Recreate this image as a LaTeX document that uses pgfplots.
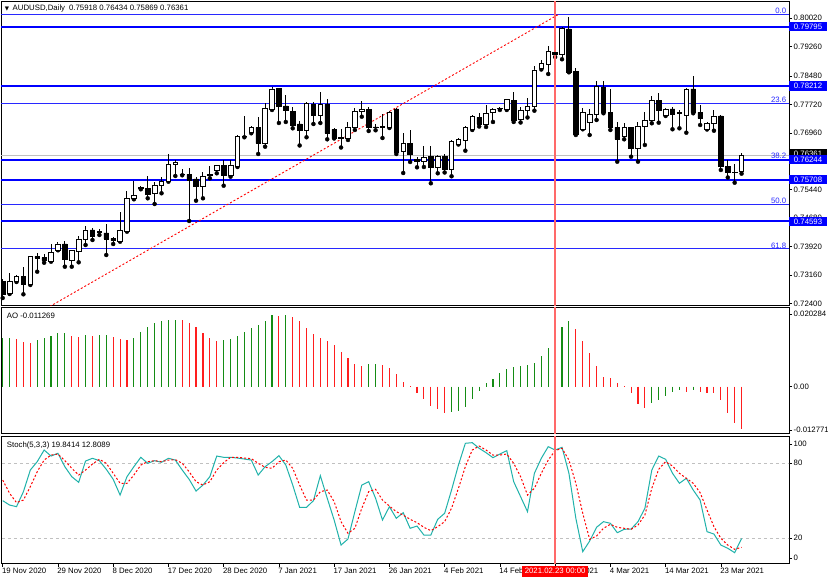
\documentclass[border=0pt]{standalone}
\usepackage{pgfplots}
\usepackage{pgfplotstable}
\pgfplotsset{compat=1.18}
\usepackage{fontspec}
\setmainfont{Liberation Sans}
\newfontfamily\dejavu{DejaVu Sans}
\newcommand\lab{\fontsize{7.8bp}{9bp}\selectfont}
\definecolor{mtblue}{RGB}{0,0,255}
\definecolor{fibblue}{RGB}{40,40,255}
\definecolor{aogreen}{RGB}{20,140,20}
\definecolor{aored}{RGB}{255,30,30}
\definecolor{vred}{RGB}{255,105,105}
\definecolor{stk}{RGB}{32,178,170}
\definecolor{silverc}{RGB}{192,192,192}

\pgfplotstableread{
i o h l c
0 0.72983 0.73055 0.72547 0.72654
1 0.72662 0.73223 0.72654 0.72993
2 0.72983 0.73162 0.72975 0.73116
3 0.73116 0.73384 0.72646 0.72921
4 0.72913 0.73669 0.72895 0.73661
5 0.73656 0.73742 0.73250 0.73616
6 0.73624 0.73715 0.73490 0.73544
7 0.73528 0.73990 0.73517 0.73758
8 0.73822 0.74052 0.73822 0.73990
9 0.73990 0.74070 0.73384 0.73589
10 0.73544 0.73830 0.73384 0.73811
11 0.73795 0.74204 0.73501 0.74124
12 0.74116 0.74479 0.73963 0.74364
13 0.74364 0.74426 0.74097 0.74185
14 0.74319 0.74391 0.74231 0.74292
15 0.74284 0.74516 0.73696 0.74124
16 0.74142 0.74185 0.73990 0.74078
17 0.74062 0.74853 0.74052 0.74345
18 0.74319 0.75406 0.74319 0.75211
19 0.75211 0.75681 0.75184 0.75299
20 0.75505 0.75540 0.75452 0.75468
21 0.75478 0.75807 0.75211 0.75326
22 0.75345 0.75654 0.75059 0.75558
23 0.75566 0.75788 0.75345 0.75673
24 0.75654 0.76387 0.75654 0.76127
25 0.76127 0.76234 0.75807 0.76181
26 0.75860 0.76002 0.75826 0.75842
27 0.75852 0.76013 0.74605 0.75700
28 0.75727 0.75788 0.75147 0.75521
29 0.75521 0.75906 0.75211 0.75788
30 0.75842 0.76074 0.75745 0.75815
31 0.75967 0.76101 0.75879 0.76101
32 0.76082 0.76234 0.75548 0.75834
33 0.75834 0.76234 0.75788 0.76101
34 0.76074 0.76902 0.76047 0.76875
35 0.76875 0.77410 0.76841 0.76862
36 0.76974 0.77143 0.76948 0.77097
37 0.77097 0.77391 0.76395 0.76680
38 0.76680 0.77749 0.76590 0.77610
39 0.77589 0.78185 0.77570 0.78131
40 0.78150 0.78171 0.77223 0.77658
41 0.77677 0.77971 0.77250 0.77570
42 0.77525 0.77642 0.77081 0.77169
43 0.77196 0.77276 0.76622 0.77036
44 0.77036 0.77776 0.76841 0.77749
45 0.77730 0.77792 0.77196 0.77437
46 0.77437 0.78043 0.77223 0.77730
47 0.77730 0.77851 0.76787 0.76948
48 0.77055 0.77089 0.76809 0.76814
49 0.76827 0.77068 0.76568 0.76814
50 0.76814 0.77236 0.76769 0.77116
51 0.77116 0.77615 0.77036 0.77543
52 0.77535 0.77819 0.77391 0.77591
53 0.77589 0.77642 0.77009 0.77116
54 0.77116 0.77188 0.77028 0.77103
55 0.77129 0.77463 0.76822 0.77116
56 0.77116 0.77549 0.77089 0.77517
57 0.77597 0.77632 0.76395 0.76448
58 0.76456 0.76956 0.75887 0.76680
59 0.76680 0.77036 0.76181 0.76395
60 0.76253 0.76314 0.76039 0.76194
61 0.76200 0.76608 0.76047 0.76301
62 0.76322 0.76608 0.75612 0.76039
63 0.76026 0.76368 0.75879 0.76341
64 0.76333 0.76395 0.75900 0.75975
65 0.75975 0.76769 0.75799 0.76723
66 0.76662 0.76814 0.76648 0.76787
67 0.76769 0.77135 0.76483 0.77097
68 0.77057 0.77429 0.77036 0.77391
69 0.77375 0.77477 0.77129 0.77196
70 0.77196 0.77696 0.77116 0.77482
71 0.77517 0.77615 0.77250 0.77597
72 0.77610 0.77650 0.77570 0.77602
73 0.77589 0.77864 0.77570 0.77845
74 0.77837 0.78051 0.77250 0.77303
75 0.77322 0.77650 0.77236 0.77557
76 0.77551 0.77883 0.77370 0.77669
77 0.77658 0.78746 0.77551 0.78639
78 0.78684 0.78893 0.78652 0.78818
79 0.78786 0.79267 0.78532 0.79128
80 0.79101 0.79160 0.78986 0.79066
81 0.79058 0.79796 0.78925 0.79753
82 0.79734 0.80063 0.78577 0.78577
83 0.78593 0.78684 0.76902 0.76929
84 0.77063 0.77615 0.77055 0.77509
85 0.77231 0.77589 0.76902 0.77455
86 0.77463 0.78353 0.77303 0.78193
87 0.78177 0.78353 0.77482 0.77498
88 0.77498 0.78131 0.77036 0.77108
89 0.77108 0.77257 0.76189 0.76787
90 0.76875 0.77215 0.76787 0.77108
91 0.77097 0.77124 0.76322 0.76547
92 0.76547 0.77257 0.76189 0.77143
93 0.77143 0.77525 0.76635 0.77284
94 0.77284 0.77944 0.77215 0.77837
95 0.77837 0.78016 0.77231 0.77551
96 0.77429 0.77615 0.77410 0.77597
97 0.77597 0.77658 0.77055 0.77463
98 0.77503 0.77570 0.77081 0.77490
99 0.77429 0.78150 0.76964 0.78131
100 0.78131 0.78479 0.77482 0.77498
101 0.77509 0.77704 0.77169 0.77348
102 0.77063 0.77236 0.77049 0.77215
103 0.77215 0.77570 0.77017 0.77410
104 0.77410 0.77437 0.75967 0.76055
105 0.76055 0.76234 0.75767 0.75895
106 0.75906 0.76127 0.75628 0.75892
107 0.75918 0.76434 0.75869 0.76361
}\candles

\pgfplotstableread{
i k d
0 50.1 66.6
1 46.6 56.0
2 45.3 48.5
3 57.3 50.6
4 74.6 61.3
5 81.3 73.3
6 90.6 82.6
7 85.8 86.6
8 88.0 87.4
9 77.3 82.1
10 69.3 76.0
11 64.8 70.6
12 81.8 74.6
13 84.0 79.4
14 82.1 83.2
15 75.2 80.0
16 67.2 72.0
17 54.6 64.0
18 69.3 64.0
19 77.3 70.6
20 84.8 78.6
21 80.0 81.3
22 82.1 82.1
23 80.8 81.3
24 84.0 82.6
25 82.6 82.9
26 74.6 80.0
27 67.2 73.3
28 57.8 65.3
29 62.6 62.6
30 69.3 65.3
31 85.8 74.6
32 84.8 80.5
33 84.8 84.8
34 84.2 84.8
35 83.4 84.2
36 82.6 83.7
37 70.6 80.0
38 77.3 76.8
39 81.3 76.0
40 86.1 81.3
41 78.6 82.6
42 62.6 76.0
43 44.8 62.6
44 44.8 50.6
45 50.1 50.6
46 70.1 57.3
47 52.0 58.6
48 34.6 49.3
49 14.6 33.3
50 19.4 24.0
51 41.3 28.0
52 62.6 44.0
53 65.3 57.3
54 52.0 59.2
55 34.6 50.6
56 45.3 45.8
57 36.0 41.3
58 40.5 38.6
59 28.0 35.2
60 29.8 32.5
61 22.6 28.8
62 22.6 26.1
63 35.2 29.3
64 40.0 33.3
65 58.6 44.0
66 78.6 60.0
67 96.0 77.3
68 96.5 90.6
69 92.0 93.8
70 88.5 90.6
71 84.5 86.6
72 87.4 86.6
73 90.1 87.4
74 65.3 80.0
75 53.3 69.3
76 41.3 54.6
77 72.0 60.0
78 84.0 72.0
79 93.3 82.6
80 90.6 90.1
81 92.8 92.0
82 72.0 82.6
83 36.0 64.0
84 9.3 40.0
85 17.8 19.2
86 28.8 21.8
87 33.3 28.0
88 32.0 31.2
89 24.5 28.8
90 27.2 28.0
91 27.4 27.2
92 33.3 30.6
93 44.0 38.6
94 74.6 60.0
95 85.8 75.2
96 83.2 81.3
97 72.0 77.8
98 64.0 72.0
99 68.0 68.0
100 58.6 64.0
101 50.6 56.5
102 25.3 42.6
103 23.4 29.3
104 14.6 20.0
105 12.0 14.6
106 8.5 11.2
107 19.84 12.81
}\stoch

\pgfplotsset{
  panel/.style={
    scale only axis, width=788bp, xmin=-0.246, xmax=113.87,
    anchor=south west,
    axis line style={draw=black, line width=0.8bp},
    xtick=\empty, ytick pos=right, yticklabel pos=right,
    scaled x ticks=false, scaled y ticks=false,
    tick align=outside, major tick length=3bp,
    tick style={black, line width=0.6bp},
    ticklabel style={font=\lab},
    yticklabel style={anchor=west, inner xsep=1.5bp},
    clip mode=individual,
  },
  vline/.style={vred, line width=1.6bp},
  lvl/.style={mtblue, line width=2bp},
  fib/.style={fibblue, line width=0.9bp},
}
\tikzset{
  lbox/.style={anchor=west, fill=mtblue, text=white, font=\lab, inner xsep=4.5bp, inner ysep=0.8bp, minimum height=9.5bp, xshift=0.2bp},
  fibl/.style={anchor=south east, text=fibblue, font=\lab, inner sep=0.6bp, xshift=-2bp},
}

\begin{document}
\begin{tikzpicture}
\useasboundingbox (0,0) rectangle (828bp,582bp);
\fill[white] (0,0) rectangle (828bp,582bp);

% ---------- price panel: levels and wicks
\begin{axis}[panel, at={(1bp,276.5bp)}, height=304bp, ymin=0.72347, ymax=0.80469,
  ytick={0.7240,0.7316,0.7392,0.7468,0.7544,0.7620,0.7696,0.7772,0.7848,0.7926,0.8002},
  yticklabels={0.72400,0.73160,0.73920,0.74680,0.75440,0.76200,0.76960,0.77720,0.78480,0.79260,0.80020}]
\addplot[fib] coordinates {(-1,0.80135) (115,0.80135)};
\addplot[fib] coordinates {(-1,0.77738) (115,0.77738)};
\addplot[fib] coordinates {(-1,0.75057) (115,0.75057)};
\addplot[fib] coordinates {(-1,0.73858) (115,0.73858)};
\addplot[silverc, line width=0.9bp] coordinates {(-1,0.76361) (115,0.76361)};
\addplot[lvl] coordinates {(-1,0.79795) (115,0.79795)};
\addplot[lvl] coordinates {(-1,0.78212) (115,0.78212)};
\addplot[lvl] coordinates {(-1,0.76244) (115,0.76244)};
\addplot[lvl] coordinates {(-1,0.75708) (115,0.75708)};
\addplot[lvl] coordinates {(-1,0.74593) (115,0.74593)};
\addplot[red, dash pattern=on 2bp off 2bp, line width=0.9bp] coordinates {(-15.3,0.69978) (80.6,0.80135)};
\addplot[only marks, mark=none, error bars/.cd, y dir=plus, y explicit, error mark=none,
  error bar style={black, line width=1bp}]
  table[x=i, y=l, y error expr=\thisrow{h}-\thisrow{l}] {\candles};
\addplot[vline] coordinates {(80,0.70) (80,0.81)};
\node[lbox, fill=black, yshift=1.5bp] at (axis cs:113.87,0.76361) {0.76361};
\end{axis}

% ---------- price panel: candle bodies and labels
\begin{axis}[panel, at={(1bp,276.5bp)}, height=304bp, ymin=0.72347, ymax=0.80469,
  hide axis, ytick=\empty, ybar stacked, bar width=0.66]
\addplot[draw=none, fill=none] table[x=i, y expr={min(\thisrow{o},\thisrow{c})}] {\candles};
\addplot[draw=black, fill=white, line width=0.7bp] table[x=i, y expr={max(\thisrow{c}-\thisrow{o},0)}] {\candles};
\addplot[draw=black, fill=black, line width=0.7bp] table[x=i, y expr={max(\thisrow{o}-\thisrow{c},0)}] {\candles};
\node[fibl] at (axis cs:113.87,0.80135) {0.0};
\node[fibl] at (axis cs:113.87,0.77738) {23.6};
\node[fibl] at (axis cs:113.87,0.76255) {38.2};
\node[fibl] at (axis cs:113.87,0.75057) {50.0};
\node[fibl] at (axis cs:113.87,0.73858) {61.8};
\node[lbox] at (axis cs:113.87,0.79795) {0.79795};
\node[lbox] at (axis cs:113.87,0.78212) {0.78212};
\node[lbox] at (axis cs:113.87,0.76244) {0.76244};
\node[lbox] at (axis cs:113.87,0.75708) {0.75708};
\node[lbox] at (axis cs:113.87,0.74593) {0.74593};
\node[anchor=west, font=\lab, inner sep=0pt] at (axis cs:0.3,0.80277)
  {{\dejavu\fontsize{5.5bp}{6bp}\selectfont ▼}\hspace{3.5bp}AUDUSD,Daily\hspace{4bp}0.75918 0.76434 0.75869 0.76361};
\end{axis}

% ---------- AO panel
\begin{axis}[panel, at={(1bp,148.5bp)}, height=126bp, ymin=-0.01238, ymax=0.02095,
  ytick={-0.01146,0,0.01915}, yticklabels={-0.012771,0.00,0.020284}]
\addplot[ycomb, aogreen, line width=1.1bp, mark=none] coordinates {
(0,0.01275) (1,0.0128) (5,0.01235) (6,0.01297) (7,0.01350) (8,0.01412) (9,0.01429)
(12,0.01368) (14,0.01368) (15,0.01372) (19,0.01297) (20,0.01456) (21,0.01588)
(22,0.01676) (23,0.01747) (24,0.01765) (25,0.01768) (32,0.01235) (33,0.01262)
(34,0.01341) (35,0.01456) (36,0.01544) (37,0.01632) (38,0.01747) (39,0.01888)
(41,0.01885) (53,0.00592) (54,0.00600) (65,-0.00678) (66,-0.00643) (67,-0.00529)
(68,-0.00334) (69,-0.00114) (70,0.0009) (71,0.00204) (72,0.00354) (73,0.0046)
(74,0.00529) (75,0.00548) (76,0.00574) (77,0.00635) (78,0.0082) (79,0.01032)
(80,0.0125) (81,0.01587) (82,0.01746) (94,-0.00423) (95,-0.00352) (96,-0.00238)
(97,-0.00132) (98,-0.00087) (100,-0.0009)};
\addplot[ycomb, aored, line width=1.1bp, mark=none] coordinates {
(2,0.01254) (3,0.01191) (4,0.01165) (10,0.01341) (11,0.01324) (13,0.01341)
(16,0.01315) (17,0.01254) (18,0.01227) (26,0.01760) (27,0.01676) (28,0.01588)
(29,0.01412) (30,0.01297) (31,0.01209) (40,0.01870) (42,0.01853) (43,0.01738)
(44,0.01544) (45,0.01385) (46,0.01297) (47,0.01209) (48,0.01103) (49,0.00927)
(50,0.00750) (51,0.00592) (52,0.00556) (55,0.00574) (56,0.00503) (57,0.00336)
(58,0.00132) (59,0.0001) (60,-0.00175) (61,-0.00325) (62,-0.0051) (63,-0.00599)
(64,-0.00704) (83,0.01526) (84,0.01209) (85,0.00884) (86,0.00556) (87,0.00265)
(88,0.00222) (89,0.0009) (90,0.0002) (91,-0.00175) (92,-0.00458) (93,-0.00556)
(99,-0.00148) (101,-0.0013) (102,-0.0016) (103,-0.0017) (104,-0.00352)
(105,-0.00704) (106,-0.00968) (107,-0.011269)};
\addplot[vline] coordinates {(80,-0.05) (80,0.05)};
\node[anchor=west, font=\lab, inner sep=0pt] at (axis cs:0.58,0.0187) {AO -0.011269};
\end{axis}

% ---------- Stochastic panel
\begin{axis}[panel, at={(1bp,18.5bp)}, height=127bp, ymin=-0.16, ymax=101.44,
  ytick={4.2,20,80,95.4}, yticklabels={0,20,80,100},
  xtick={0,8,16,24,32,40,48,56,64,72,80,88,96,104}, xtick pos=bottom,
  xticklabels={19 Nov 2020,29 Nov 2020,8 Dec 2020,17 Dec 2020,28 Dec 2020,7 Jan 2021,17 Jan 2021,26 Jan 2021,4 Feb 2021,14 Feb 2021,23 Feb 2021,4 Mar 2021,14 Mar 2021,23 Mar 2021},
  xticklabel style={anchor=north west, inner sep=0pt, xshift=-0.8bp, yshift=-1bp}]
\addplot[silverc, dash pattern=on 3bp off 3bp, line width=0.8bp] coordinates {(-1,80) (115,80)};
\addplot[silverc, dash pattern=on 3bp off 3bp, line width=0.8bp] coordinates {(-1,20) (115,20)};
\addplot[stk, line width=1bp, mark=none] table[x=i, y=k] {\stoch};
\addplot[red, dash pattern=on 2bp off 2bp, line width=1bp, mark=none] table[x=i, y=d] {\stoch};
\addplot[vline] coordinates {(80,-5) (80,110)};
\node[anchor=west, font=\lab, inner sep=0pt] at (axis cs:0.58,94.6) {Stoch(5,3,3) 19.8414 12.8089};
\node[anchor=north, fill=red, text=white, font=\lab, inner xsep=3bp, inner ysep=1.2bp, minimum height=11bp, yshift=-2bp] at (axis cs:80,-0.16) {2021.02.23 00:00};
\end{axis}
\end{tikzpicture}
\end{document}
